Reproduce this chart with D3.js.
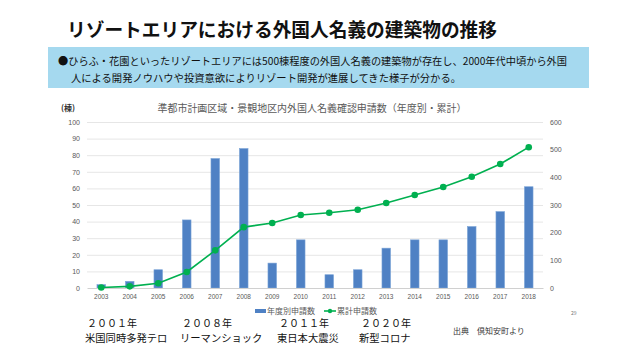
<!DOCTYPE html>
<html><head><meta charset="utf-8">
<script src="https://cdn.jsdelivr.net/npm/d3@7"></script>
<style>
html,body{margin:0;padding:0;background:#fff;}
svg{display:block;font-family:"Noto Sans CJK JP","Noto Sans",sans-serif;}
</style></head>
<body>
<svg id="c" width="640" height="360"></svg>
<script>
const years = ["2003","2004","2005","2006","2007","2008","2009","2010","2011","2012","2013","2014","2015","2016","2017","2018"];
const annual = [2,4,11,41,78,84,15,29,8,11,24,29,29,37,46,61];
const cumulative = [2,6,17,58,136,220,235,264,272,283,307,336,365,402,448,509];
const leftTicks = [0,10,20,30,40,50,60,70,80,90,100];
const rightTicks = [0,100,200,300,400,500,600];
const events = [
  {year:"２００１年", name:"米国同時多発テロ"},
  {year:"２００８年", name:"リーマンショック"},
  {year:"２０１１年", name:"東日本大震災"},
  {year:"２０２０年", name:"新型コロナ"}
];
const titleText = "リゾートエリアにおける外国人名義の建築物の推移";
const boxLines = [
  "●ひらふ・花園といったリゾートエリアには500棟程度の外国人名義の建築物が存在し、2000年代中頃から外国",
  "人による開発ノウハウや投資意欲によりリゾート開発が進展してきた様子が分かる。"
];
const chartTitle = "準都市計画区域・景観地区内外国人名義確認申請数（年度別・累計）";
const seriesNames = ["年度別申請数","累計申請数"];

const svg = d3.select("#c");

// Title
svg.append("text").attr("x",67).attr("y",37).attr("font-size",19).attr("font-weight",700)
  .attr("fill","#111").attr("textLength",430).attr("lengthAdjust","spacingAndGlyphs").text(titleText);

// Blue box
svg.append("rect").attr("x",48).attr("y",47).attr("width",541).attr("height",41).attr("fill","#a5d9ef");
svg.append("text").attr("x",58).attr("y",65).attr("font-size",10.5).attr("fill","#111")
  .attr("textLength",509).attr("lengthAdjust","spacingAndGlyphs").text(boxLines[0]);
svg.append("text").attr("x",71).attr("y",82).attr("font-size",10.5).attr("fill","#111")
  .attr("textLength",390).attr("lengthAdjust","spacingAndGlyphs").text(boxLines[1]);

// Chart
const x0 = 87, x1 = 543, yTop = 122, yBot = 288;
const x = d3.scaleBand().domain(years).range([x0,x1]).paddingInner(0.7).paddingOuter(0.35);
const yL = d3.scaleLinear().domain([0,100]).range([yBot,yTop]);
const yR = d3.scaleLinear().domain([0,600]).range([yBot,yTop]);

svg.append("text").attr("x",312).attr("y",112).attr("text-anchor","middle").attr("font-size",10)
  .attr("fill","#595959").attr("textLength",309).attr("lengthAdjust","spacingAndGlyphs").text(chartTitle);
svg.append("text").attr("x",61).attr("y",111).attr("font-size",8).attr("font-weight",700)
  .attr("fill","#333").text("(棟)");

// gridlines
svg.append("g").selectAll("line").data(leftTicks.filter(d=>d>0)).join("line")
  .attr("x1",x0).attr("x2",x1).attr("y1",d=>yL(d)+0.5).attr("y2",d=>yL(d)+0.5)
  .attr("stroke","#e6e6e6").attr("stroke-width",1);

// left axis
const gl = svg.append("g").attr("transform",`translate(${x0},0)`)
  .call(d3.axisLeft(yL).tickValues(leftTicks).tickSize(0).tickPadding(7));
gl.select(".domain").remove();
gl.selectAll("text").attr("font-size",7).attr("fill","#595959").attr("font-family","Liberation Sans, sans-serif");

// right axis
const gr = svg.append("g").attr("transform",`translate(${x1},0)`)
  .call(d3.axisRight(yR).tickValues(rightTicks).tickSize(0).tickPadding(7));
gr.select(".domain").remove();
gr.selectAll("text").attr("font-size",7).attr("fill","#595959").attr("font-family","Liberation Sans, sans-serif");

// bars
svg.append("g").selectAll("rect").data(annual).join("rect")
  .attr("x",(d,i)=>x(years[i])).attr("width",x.bandwidth())
  .attr("y",d=>yL(d)).attr("height",d=>yBot-yL(d))
  .attr("fill","#4f81c4").attr("stroke","#7aa3d6").attr("stroke-width",0.6);

// x axis
const gx = svg.append("g").attr("transform",`translate(0,${yBot})`)
  .call(d3.axisBottom(x).tickSize(0).tickPadding(6));
gx.select(".domain").attr("stroke","#d0d0d0");
gx.selectAll("text").attr("font-size",6.5).attr("fill","#595959").attr("font-family","Liberation Sans, sans-serif");

// line
const line = d3.line().x((d,i)=>x(years[i])+x.bandwidth()/2).y(d=>yR(d));
svg.append("path").datum(cumulative).attr("d",line).attr("fill","none")
  .attr("stroke","#00b050").attr("stroke-width",1.6);
svg.append("g").selectAll("circle").data(cumulative).join("circle")
  .attr("cx",(d,i)=>x(years[i])+x.bandwidth()/2).attr("cy",d=>yR(d)).attr("r",3.3)
  .attr("fill","#00b050");

// legend
const lg = svg.append("g");
lg.append("rect").attr("x",255).attr("y",309).attr("width",11).attr("height",4).attr("fill","#4f81c4");
lg.append("text").attr("x",267).attr("y",314).attr("font-size",8).attr("fill","#595959").text(seriesNames[0]);
lg.append("line").attr("x1",324).attr("x2",336).attr("y1",311).attr("y2",311).attr("stroke","#00b050").attr("stroke-width",1.6);
lg.append("circle").attr("cx",330).attr("cy",311).attr("r",2.2).attr("fill","#00b050");
lg.append("text").attr("x",337).attr("y",314).attr("font-size",8).attr("fill","#595959").text(seriesNames[1]);

// page number
svg.append("text").attr("x",571).attr("y",315).attr("font-size",5).attr("fill","#777").text("29");

// events
const evX = [87,182,279,361];
const eg = svg.append("g");
events.forEach((e,i)=>{
  eg.append("text").attr("x",evX[i]).attr("y",326.5).attr("font-size",10).attr("fill","#111")
    .attr("textLength",50).attr("lengthAdjust","spacingAndGlyphs").text(e.year);
  eg.append("text").attr("x",evX[i]-2).attr("y",341.5).attr("font-size",10.3).attr("fill","#111").text(e.name);
});
svg.append("text").attr("x",453).attr("y",334).attr("font-size",8).attr("fill","#333").text("出典　倶知安町より");
</script>
</body></html>
